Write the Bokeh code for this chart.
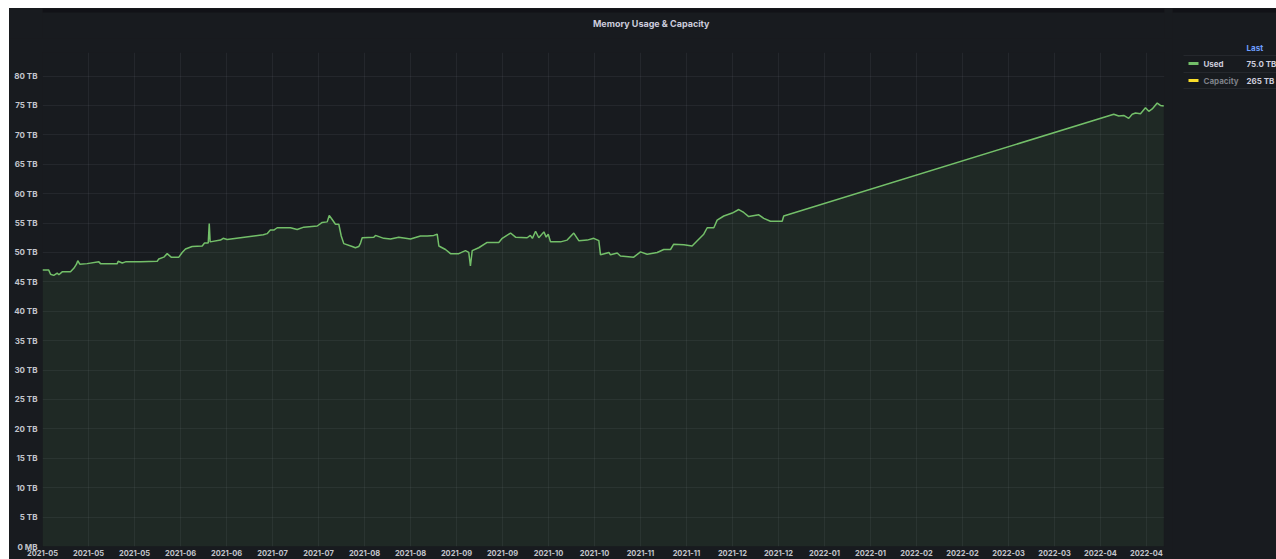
import pandas as pd
from bokeh.plotting import figure
from bokeh.layouts import column, row
from bokeh.models import (ColumnDataSource, FixedTicker, DatetimeTickFormatter,
                          Range1d, Spacer)
from bokeh.core.properties import value
from bokeh.embed import file_html
from bokeh.resources import INLINE

# ---------------- data ----------------
used_time = [
    "2021-05-01 00:00", "2021-05-03 01:00", "2021-05-03 15:00", "2021-05-04 16:00",
    "2021-05-05 19:00", "2021-05-06 08:00", "2021-05-07 10:00", "2021-05-10 03:00",
    "2021-05-11 05:00", "2021-05-12 02:00", "2021-05-12 12:00", "2021-05-13 04:00",
    "2021-05-15 14:00", "2021-05-19 09:00", "2021-05-19 22:00", "2021-05-25 09:00",
    "2021-05-25 16:00", "2021-05-27 00:00", "2021-05-28 02:00", "2021-06-01 23:00",
    "2021-06-07 10:00", "2021-06-07 22:00", "2021-06-09 13:00", "2021-06-10 16:00",
    "2021-06-11 23:00", "2021-06-14 11:00", "2021-06-15 13:00", "2021-06-16 15:00",
    "2021-06-18 19:00", "2021-06-22 02:00", "2021-06-22 20:00", "2021-06-24 01:00",
    "2021-06-24 09:00", "2021-06-24 16:00", "2021-06-28 01:00", "2021-06-28 22:00",
    "2021-06-30 05:00", "2021-07-04 13:00", "2021-07-08 22:00", "2021-07-12 00:00",
    "2021-07-13 06:00", "2021-07-14 07:00", "2021-07-15 10:00", "2021-07-16 13:00",
    "2021-07-20 21:00", "2021-07-23 01:00", "2021-07-25 05:00", "2021-07-29 14:00",
    "2021-07-31 05:00", "2021-08-01 20:00", "2021-08-02 12:00", "2021-08-03 11:00",
    "2021-08-04 13:00", "2021-08-05 15:00", "2021-08-06 10:00", "2021-08-07 06:00",
    "2021-08-10 00:00", "2021-08-11 01:00", "2021-08-12 03:00", "2021-08-12 17:00",
    "2021-08-13 06:00", "2021-08-17 01:00", "2021-08-17 14:00", "2021-08-20 07:00",
    "2021-08-22 12:00", "2021-08-25 04:00", "2021-08-29 00:00", "2021-09-01 06:00",
    "2021-09-03 11:00", "2021-09-05 14:00", "2021-09-06 17:00", "2021-09-07 06:00",
    "2021-09-08 08:00", "2021-09-09 10:00", "2021-09-11 01:00", "2021-09-13 18:00",
    "2021-09-15 22:00", "2021-09-17 00:00", "2021-09-17 13:00", "2021-09-18 03:00",
    "2021-09-20 06:00", "2021-09-23 00:00", "2021-09-26 19:00", "2021-09-27 22:00",
    "2021-09-30 15:00", "2021-10-02 06:00", "2021-10-06 01:00", "2021-10-07 02:00",
    "2021-10-07 18:00", "2021-10-08 19:00", "2021-10-09 20:00", "2021-10-11 12:00",
    "2021-10-12 06:00", "2021-10-12 22:00", "2021-10-13 16:00", "2021-10-16 22:00",
    "2021-10-19 02:00", "2021-10-21 06:00", "2021-10-22 21:00", "2021-10-25 15:00",
    "2021-10-27 18:00", "2021-10-29 10:00", "2021-10-29 23:00", "2021-11-01 17:00",
    "2021-11-02 05:00", "2021-11-04 10:00", "2021-11-05 11:00", "2021-11-09 19:00",
    "2021-11-12 00:00", "2021-11-14 04:00", "2021-11-17 11:00", "2021-11-19 14:00",
    "2021-11-21 19:00", "2021-11-22 20:00", "2021-11-26 03:00", "2021-11-28 20:00",
    "2021-11-30 12:00", "2021-12-02 15:00", "2021-12-03 18:00", "2021-12-05 22:00",
    "2021-12-07 00:00", "2021-12-09 04:00", "2021-12-11 22:00", "2021-12-14 01:00",
    "2021-12-15 16:00", "2021-12-17 07:00", "2021-12-20 14:00", "2021-12-22 05:00",
    "2021-12-24 09:00", "2021-12-28 05:00", "2021-12-28 17:00",
    "2022-04-15 08:00", "2022-04-16 23:00", "2022-04-18 14:00", "2022-04-20 05:00",
    "2022-04-21 08:00", "2022-04-22 10:00", "2022-04-24 01:00", "2022-04-25 16:00",
    "2022-04-26 18:00", "2022-04-27 21:00", "2022-04-29 12:00", "2022-04-30 13:00",
    "2022-05-01 15:00",
]
used_tb = [
    47.0, 47.0, 46.3, 46.1,
    46.5, 46.2, 46.7, 46.7,
    47.3, 48.0, 48.6, 48.0,
    48.1, 48.4, 48.1, 48.1,
    48.5, 48.2, 48.4, 48.4,
    48.5, 48.9, 49.2, 49.8,
    49.2, 49.2, 50.0, 50.6,
    51.0, 51.1, 51.6, 51.6,
    54.9, 51.8, 52.1, 52.4,
    52.2, 52.5, 52.8, 53.0,
    53.2, 53.8, 53.8, 54.2,
    54.2, 53.9, 54.3, 54.5,
    55.1, 55.2, 56.3, 55.6,
    54.8, 54.8, 52.8, 51.5,
    51.0, 50.8, 51.0, 51.6,
    52.5, 52.6, 52.9, 52.4,
    52.3, 52.6, 52.3, 52.8,
    52.8, 52.9, 53.1, 51.1,
    50.8, 50.5, 49.8, 49.8,
    50.3, 50.0, 47.7, 50.3,
    50.8, 51.7, 51.7, 52.4,
    53.3, 52.6, 52.5, 52.9,
    52.4, 53.6, 52.5, 53.5,
    52.6, 53.1, 51.8, 51.8,
    52.1, 53.3, 52.0, 52.1,
    52.4, 52.0, 49.6, 50.0,
    49.6, 49.9, 49.4, 49.2,
    50.1, 49.7, 50.0, 50.5,
    50.5, 51.4, 51.3, 51.1,
    52.0, 53.1, 54.2, 54.2,
    55.5, 56.2, 56.7, 57.3,
    56.8, 56.1, 56.4, 55.8,
    55.3, 55.3, 56.2,
    73.5, 73.2, 73.3, 72.8,
    73.5, 73.7, 73.6, 74.6,
    74.0, 74.4, 75.4, 75.0,
    74.9,
]

series_names = ["Used", "Capacity"]
series_last = ["75.0 TB", "265 TB"]
series_colors = ["#73BF69", "#FADE2A"]
series_name_colors = ["#ccccdc", "#7d8088"]

x_tick_dates = [
    "2021-05-01", "2021-05-16", "2021-05-31", "2021-06-15", "2021-06-30",
    "2021-07-15", "2021-07-30", "2021-08-14", "2021-08-29", "2021-09-13",
    "2021-09-28", "2021-10-13", "2021-10-28", "2021-11-12", "2021-11-27",
    "2021-12-12", "2021-12-27", "2022-01-11", "2022-01-26", "2022-02-10",
    "2022-02-25", "2022-03-12", "2022-03-27", "2022-04-11", "2022-04-26",
]
y_ticks = [0, 5, 10, 15, 20, 25, 30, 35, 40, 45, 50, 55, 60, 65, 70, 75, 80]
y_tick_labels = ["0 MB", "5 TB", "10 TB", "15 TB", "20 TB", "25 TB", "30 TB",
                 "35 TB", "40 TB", "45 TB", "50 TB", "55 TB", "60 TB", "65 TB",
                 "70 TB", "75 TB", "80 TB"]

title_text = "Memory Usage & Capacity"
legend_header = "Last"

# ---------------- styling ----------------
BG = "#181b1f"
BAND = "#111217"
TXT = "#ccccdc"
AXTXT = "#c3c5cc"
FONT = "Inter"

MAIN_W, LEG_W = 1163, 104
HEAD_H, MAIN_H = 30, 521
TOTAL_H = HEAD_H + MAIN_H


def bare(fig):
    fig.background_fill_color = BG
    fig.border_fill_color = BG
    fig.outline_line_color = None
    fig.grid.visible = False
    return fig


# ---------------- header (title) ----------------
head = bare(figure(width=MAIN_W, height=HEAD_H, x_range=Range1d(0, MAIN_W),
                   y_range=Range1d(HEAD_H, 0), output_backend="svg",
                   toolbar_location=None, title=None, x_axis_location=None,
                   y_axis_location=None, min_border=0))
head.quad(left=[0], right=[MAIN_W], top=[0], bottom=[4], fill_color=BAND, line_color=None)
head.text(x=[631], y=[15], text=[title_text], text_align="center", text_baseline="middle",
          text_font=value(FONT), text_font_size="9px", text_font_style="bold",
          text_color=TXT)

# ---------------- main chart ----------------
t = pd.to_datetime(used_time)
src = ColumnDataSource(dict(t=t, v=used_tb))

x_start = pd.Timestamp("2021-05-01 00:00")
x_end = pd.Timestamp("2022-05-01 21:00")

p = figure(width=MAIN_W, height=MAIN_H, x_axis_type="datetime",
           x_range=Range1d(x_start, x_end), y_range=Range1d(0, 84),
           output_backend="svg", toolbar_location=None, title=None,
           min_border_left=33, min_border_right=8,
           min_border_top=14, min_border_bottom=13)
p.background_fill_color = BG
p.border_fill_color = BG
p.outline_line_color = None

p.varea(x="t", y1=0, y2="v", source=src, fill_color="#73BF69", fill_alpha=0.09)
p.line(x="t", y="v", source=src, line_color="#73BF69", line_width=1.5)

tick_ms = [pd.Timestamp(d).value / 1e6 for d in x_tick_dates]
p.xaxis.ticker = FixedTicker(ticks=tick_ms)
fmt = "%Y-%m"
p.xaxis.formatter = DatetimeTickFormatter(
    microseconds=fmt, milliseconds=fmt, seconds=fmt, minsec=fmt, minutes=fmt,
    hourmin=fmt, hours=fmt, days=fmt, months=fmt, years=fmt)
p.yaxis.ticker = FixedTicker(ticks=y_ticks)
p.yaxis.major_label_overrides = dict(zip(y_ticks, y_tick_labels))

for ax in (p.xaxis, p.yaxis):
    ax.axis_line_color = None
    ax.major_tick_line_color = None
    ax.minor_tick_line_color = None
    ax.major_tick_out = 0
    ax.major_tick_in = 0
    ax.minor_tick_out = 0
    ax.minor_tick_in = 0
    ax.major_label_text_color = AXTXT
    ax.major_label_text_font = FONT
    ax.major_label_text_font_style = "bold"
p.xaxis.major_label_text_font_size = "7.5px"
p.yaxis.major_label_text_font_size = "8px"
p.xaxis.major_label_standoff = 3
p.yaxis.major_label_standoff = 5

p.xgrid.grid_line_color = TXT
p.xgrid.grid_line_alpha = 0.07
p.ygrid.grid_line_color = TXT
p.ygrid.grid_line_alpha = 0.07

# ---------------- legend table ----------------
leg = bare(figure(width=LEG_W, height=TOTAL_H, x_range=Range1d(0, LEG_W),
                  y_range=Range1d(TOTAL_H, 0), output_backend="svg",
                  toolbar_location=None, title=None, x_axis_location=None,
                  y_axis_location=None, min_border=0))
leg.quad(left=[0], right=[LEG_W], top=[0], bottom=[4], fill_color=BAND, line_color=None)

row_y = [55, 72]
val_x = 74
leg.text(x=[val_x], y=[39], text=[legend_header], text_align="left", text_baseline="middle",
         text_font=value(FONT), text_font_size="8px", text_font_style="bold",
         text_color="#6e9fff")
leg.segment(x0=[11, 11, 11], y0=[47, 64, 80], x1=[LEG_W] * 3, y1=[47, 64, 80],
            line_color="#25282d", line_width=1)
leg.segment(x0=[16, 16], y0=row_y, x1=[26, 26], y1=row_y,
            line_color=series_colors, line_width=3)
leg.text(x=[31, 31], y=row_y, text=series_names, text_align="left", text_baseline="middle",
         text_font=value(FONT), text_font_size="8px", text_font_style="bold",
         text_color=series_name_colors)
leg.text(x=[val_x, val_x], y=row_y, text=series_last, text_align="left",
         text_baseline="middle", text_font=value(FONT), text_font_size="8px",
         text_font_style="bold", text_color=TXT)

left_col = column(head, p, styles={"background-color": BG})
content = row(left_col, leg, styles={"background-color": BG})
page = column(Spacer(height=8), row(Spacer(width=9), content))

open("out.html", "w").write(file_html(page, INLINE))
